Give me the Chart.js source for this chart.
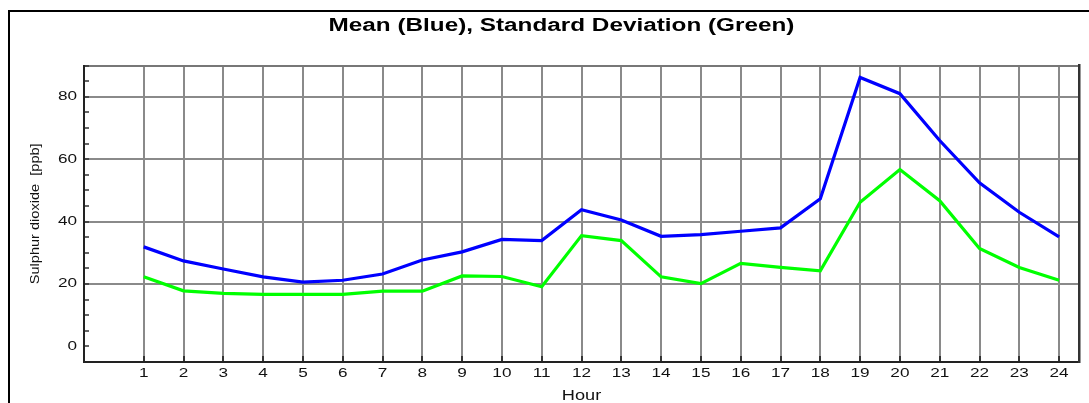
<!DOCTYPE html>
<html><head><meta charset="utf-8">
<script src="https://cdn.jsdelivr.net/npm/chart.js@4"></script>
<style>html,body{margin:0;padding:0;background:#fff;overflow:hidden}canvas{display:block}</style>
</head><body>
<canvas id="c" width="1089" height="403"></canvas>
<script>
// ---- data ----
const HOURS = [1,2,3,4,5,6,7,8,9,10,11,12,13,14,15,16,17,18,19,20,21,22,23,24];
const MEAN  = [31.9,27.4,24.8,22.3,20.6,21.2,23.2,27.7,30.3,34.3,33.9,43.8,40.5,35.3,35.8,36.9,38.0,47.3,86.2,81.0,66.0,52.4,43.0,35.1];
const STDEV = [22.3,17.8,17.0,16.7,16.7,16.7,17.7,17.7,22.6,22.4,19.1,35.5,33.9,22.3,20.1,26.6,25.3,24.2,46.2,56.7,46.7,31.4,25.3,21.2];
const Y_TICKS = [-5,0,5,10,15,20,25,30,35,40,45,50,55,60,65,70,75,80,85,90];
const Y_LABELS = [0,20,40,60,80];
const Y_MIN = -5, Y_MAX = 90;
const X_MIN = -0.5, X_MAX = 24.5;
const TITLE = 'Mean (Blue), Standard Deviation (Green)';
const X_TITLE = 'Hour';
const Y_TITLE = 'Sulphur dioxide  [ppb]';

const FONT = "'Liberation Sans', Arial, sans-serif";
const TEXT_STRETCH = {18: 1.35, 14: 1.3, 13: 1.12, 12: 1.43};

const stretchPlugin = {
  id: 'stretch',
  beforeDraw(chart) {
    const base = CanvasRenderingContext2D.prototype.fillText;
    chart.ctx.fillText = function (t, x, y) {
      const m = /([\d.]+)px/.exec(this.font);
      const s = m ? (TEXT_STRETCH[parseFloat(m[1])] || 1) : 1;
      this.save(); this.translate(x, y); this.scale(s, 1);
      base.call(this, t, 0, 0);
      this.restore();
    };
  },
  afterDraw(chart) { delete chart.ctx.fillText; }
};
const framePlugin = {
  id: 'frame',
  beforeDraw(chart) {
    const ctx = chart.ctx;
    ctx.save(); ctx.fillStyle = '#fff'; ctx.fillRect(0, 0, chart.width, chart.height); ctx.restore();
  },
  afterDraw(chart) {
    const ctx = chart.ctx;
    ctx.save(); ctx.fillStyle = '#000';
    ctx.fillRect(8, 10, chart.width - 8, 2);
    ctx.fillRect(8, 10, 2, chart.height - 10);
    ctx.restore();
  }
};

new Chart(document.getElementById('c'), {
  type: 'line',
  data: {
    datasets: [
      { label: 'Mean', data: HOURS.map((h, i) => ({x: h, y: MEAN[i]})), borderColor: '#0000ff', borderWidth: 3.2, pointRadius: 0, tension: 0, fill: false },
      { label: 'Standard Deviation', data: HOURS.map((h, i) => ({x: h, y: STDEV[i]})), borderColor: '#00ff00', borderWidth: 3.2, pointRadius: 0, tension: 0, fill: false }
    ]
  },
  options: {
    responsive: false, animation: false, devicePixelRatio: 1,
    layout: { padding: { left: 0, right: -34, top: 0, bottom: 0 } },
    plugins: {
      legend: { display: false },
      tooltip: { enabled: false },
      title: { display: true, text: TITLE, color: '#000',
        font: { family: FONT, size: 18, weight: 'bold', lineHeight: 1.2 },
        padding: { top: 15, bottom: 29 } }
    },
    scales: {
      x: {
        type: 'linear', position: 'bottom', min: X_MIN, max: X_MAX,
        afterBuildTicks: s => { s.ticks = HOURS.map(h => ({value: h})); },
        afterFit: s => { s.height = 41; },
        ticks: { font: { family: FONT, size: 12 }, color: '#111', padding: 10, autoSkip: false, maxRotation: 0, callback: v => String(v) },
        grid: { color: '#8a8a8a', lineWidth: 2, tickLength: -6, tickColor: '#333', tickWidth: 2 },
        border: { color: '#222', width: 2 },
        title: { display: true, text: X_TITLE, color: '#111', font: { family: FONT, size: 14, lineHeight: 1 }, padding: { top: 0, bottom: 0 } }
      },
      y: {
        type: 'linear', position: 'left', min: Y_MIN, max: Y_MAX,
        afterBuildTicks: s => { s.ticks = Y_TICKS.map(v => ({value: v})); },
        afterFit: s => { s.width = 84; },
        ticks: { font: { family: FONT, size: 12 }, color: '#111', padding: 12, autoSkip: false,
          callback: v => (Y_LABELS.includes(v) ? String(v) : '') },
        grid: {
          color: c => { const v = c.tick ? c.tick.value : null; if (v === Y_MAX) return '#777'; if (v > 0 && Y_LABELS.includes(v)) return '#8a8a8a'; return 'rgba(0,0,0,0)'; },
          lineWidth: 2, tickLength: -5, tickColor: '#333', tickWidth: 1.5
        },
        border: { color: '#222', width: 2 },
        title: { display: true, text: Y_TITLE, color: '#111', font: { family: FONT, size: 13, lineHeight: 1.2 }, padding: { top: 28, bottom: 0 } }
      },
      yr: {
        type: 'linear', position: 'right', min: Y_MIN, max: Y_MAX,
        afterFit: s => { s.width = 44; },
        ticks: { display: false },
        grid: { drawOnChartArea: false, drawTicks: false },
        border: { display: true, color: '#333', width: 2.5 }
      }
    }
  },
  plugins: [framePlugin, stretchPlugin]
});
</script></body></html>
